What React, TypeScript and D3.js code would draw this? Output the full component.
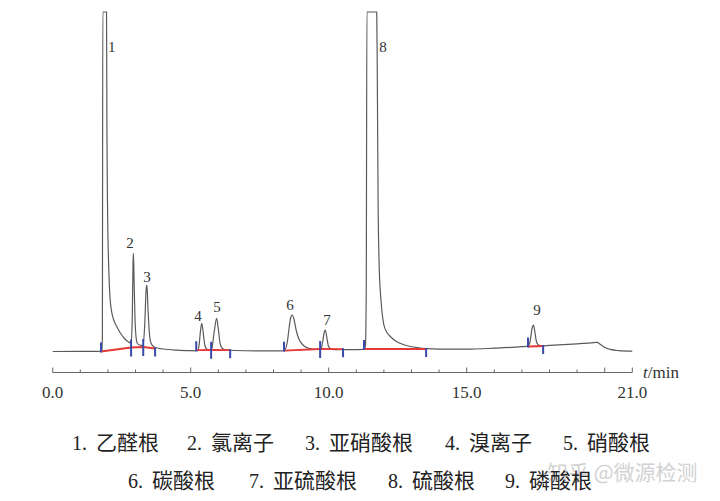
import React from "react";
import * as d3 from "d3";

// ---- data (t in min, signal in arbitrary units) ----
const traceTime = [
  0.0, 1.0, 1.6, 1.79, 1.8, 1.815, 1.95, 1.965, 1.985, 2.0, 2.03, 2.07, 2.12, 2.2, 2.33, 2.45, 2.6, 2.75,
  2.84, 2.88, 2.91, 2.925, 2.95, 2.98, 3.02, 3.07, 3.15, 3.27, 3.33, 3.39, 3.415, 3.45, 3.5, 3.56, 3.65, 3.8,
  4.0, 4.5, 5.0, 5.24, 5.3, 5.35, 5.4, 5.45, 5.51, 5.58, 5.68, 5.76, 5.85, 5.94, 6.0, 6.07, 6.15, 6.3, 6.6,
  7.5, 8.3, 8.42, 8.5, 8.57, 8.63, 8.68, 8.74, 8.82, 8.92, 9.05, 9.2, 9.4, 9.6, 9.72, 9.78, 9.84, 9.88, 9.93,
  9.99, 10.07, 10.2, 10.8, 11.28, 11.33, 11.36, 11.385, 11.74, 11.76, 11.79, 11.83, 11.9, 12.0, 12.1, 12.25,
  12.47, 12.7, 12.95, 13.25, 13.55, 14.0, 15.0, 16.0, 17.0, 17.22, 17.3, 17.37, 17.42, 17.47, 17.53, 17.6,
  17.7, 18.0, 18.5, 19.0, 19.5, 19.72, 19.85, 20.0, 20.2, 20.5, 21.0,
];
const traceSignal = [
  0.5, 0.6, 0.7, 0.8, 20, 340, 340, 220, 150, 118, 85, 57, 43, 33, 25, 19, 13.5, 10,
  9, 30, 88, 99, 70, 35, 15, 8.5, 7, 6.5, 25, 64, 67, 45, 20, 9, 5.5, 4,
  3, 1.8, 1.3, 1.2, 6, 20, 28.7, 20, 7, 3, 2, 3, 20, 33.7, 23, 8, 3.5, 2, 1.5,
  1.2, 1.2, 2.5, 10, 25, 35, 37, 33, 22, 13, 7.5, 4.5, 3, 2.6, 3, 10, 20, 22, 15,
  6, 3.2, 2.4, 2.4, 2.7, 6, 60, 340, 340, 280, 150, 85, 50, 27, 20, 15,
  10.3, 7.5, 5.5, 4.2, 3.4, 2.9, 2.8, 3.8, 5.3, 5.8, 11, 24, 27, 20, 10, 7,
  6.2, 6.6, 7.4, 8.2, 9.1, 9.6, 7.5, 4.8, 2.6, 1.4, 0.8,
];

// integration baselines (red) and their boundary markers (blue)
const baselineTimes = [
  [1.75, 2.84, 3.28, 3.71],
  [5.2, 5.74, 6.43],
  [8.38, 9.69, 10.52],
  [11.28, 13.53],
  [17.22, 17.77],
];
const baselineLevels = [
  [0.5, 4.5, 5, 3.5],
  [1.8, 2.2, 1.8],
  [1.3, 3, 2.8],
  [3, 3],
  [5.5, 6],
];

// peak number labels (anchor in data coordinates)
const peakNumbers = ["1", "2", "3", "4", "5", "6", "7", "8", "9"];
const peakLabelTime = [2.14, 2.8, 3.42, 5.26, 5.95, 8.6, 9.94, 11.97, 17.55];
const peakLabelSignal = [305, 109, 75, 36, 45, 47, 32, 305, 42];

// axis
const xTickValues = d3.range(0, 22, 1);
const xLabelValues = [0, 5, 10, 15, 21];
const xLabelTexts = ["0.0", "5.0", "10.0", "15.0", "21.0"];

// legend
const legendNumbers = ["1.", "2.", "3.", "4.", "5.", "6.", "7.", "8.", "9."];
const legendNames = ["乙醛根", "氯离子", "亚硝酸根", "溴离子", "硝酸根", "碳酸根", "亚硫酸根", "硫酸根", "磷酸根"];

// ---- layout ----
const W = 720;
const H = 501;
const legendX = [72, 187, 305, 445, 563, 128, 249, 388, 505];
const legendRowY = [449.5, 487.5];
const legendRowOf = [0, 0, 0, 0, 0, 1, 1, 1, 1];

const SERIF = "'Liberation Serif', 'Times New Roman', serif";
const CJK = "'Noto Sans CJK SC', sans-serif";

export default function App() {
  const x = d3.scaleLinear().domain([0, 21]).range([52.7, 632.3]);
  const y = d3.scaleLinear().domain([0, 340]).range([352, 12]);
  const axisY = 372.5;

  const pts = traceTime.map((t, i) => [t, traceSignal[i]] as [number, number]);
  const line = d3
    .line<[number, number]>()
    .x((d) => x(d[0]))
    .y((d) => y(d[1]))
    .curve(d3.curveMonotoneX);

  const redLine = d3
    .line<[number, number]>()
    .x((d) => x(d[0]))
    .y((d) => y(d[1]));

  return (
    <svg
      width={W}
      height={H}
      viewBox={`0 0 ${W} ${H}`}
      style={{ position: "absolute", left: 0, top: 0, background: "#fff" }}
    >
      <defs>
        <clipPath id="plotClip">
          <rect x={0} y={y(340) - 2} width={W} height={axisY - y(340) + 2} />
        </clipPath>
      </defs>

      {/* trace */}
      <g clipPath="url(#plotClip)">
        <path d={line(pts) || ""} fill="none" stroke="#5a5a5a" strokeWidth={1.2} strokeLinejoin="round" />
      </g>

      {/* integration baselines */}
      {baselineTimes.map((ts, gi) => (
        <path
          key={"r" + gi}
          d={redLine(ts.map((t, j) => [t, baselineLevels[gi][j]] as [number, number])) || ""}
          fill="none"
          stroke="#e53935"
          strokeWidth={1.8}
        />
      ))}

      {/* boundary markers */}
      {baselineTimes.map((ts, gi) =>
        ts.map((t, j) => {
          const y0 = y(baselineLevels[gi][j]);
          const first = j === 0;
          const last = j === ts.length - 1;
          const top = first ? y0 - 9 : last ? y0 - 1 : y0 - 8;
          const bot = first ? y0 + 1 : last ? y0 + 8 : y0 + 9;
          return (
            <line
              key={"b" + gi + "-" + j}
              x1={x(t)}
              x2={x(t)}
              y1={top}
              y2={bot}
              stroke="#3949ab"
              strokeWidth={2}
            />
          );
        })
      )}

      {/* peak labels */}
      {peakNumbers.map((p, i) => (
        <text
          key={"p" + i}
          x={x(peakLabelTime[i])}
          y={y(peakLabelSignal[i])}
          textAnchor="middle"
          dominantBaseline="central"
          fontFamily={SERIF}
          fontSize={15}
          fill="#333"
        >
          {p}
        </text>
      ))}

      {/* x axis */}
      <line x1={x(0)} x2={x(21)} y1={axisY} y2={axisY} stroke="#666" strokeWidth={1} />
      {xTickValues.map((v) => (
        <line
          key={"t" + v}
          x1={x(v)}
          x2={x(v)}
          y1={axisY}
          y2={axisY - (v % 5 === 0 || v === 21 ? 5 : 3)}
          stroke="#666"
          strokeWidth={1}
        />
      ))}
      {xLabelValues.map((v, i) => (
        <text
          key={"l" + v}
          x={x(v)}
          y={398}
          textAnchor="middle"
          fontFamily={SERIF}
          fontSize={17}
          fill="#333"
        >
          {xLabelTexts[i]}
        </text>
      ))}
      <text x={643} y={378} fontFamily={SERIF} fontSize={17} fill="#333">
        <tspan fontStyle="italic">t</tspan>
        <tspan>/min</tspan>
      </text>

      {/* watermark */}
      <text x={547} y={480} fontFamily={CJK} fontSize={21} fill="#c8c8c8" opacity={0.8}>
        知乎 @微源检测
      </text>

      {/* legend */}
      {legendNumbers.map((n, i) => (
        <text key={"g" + i} y={legendRowY[legendRowOf[i]]} fill="#222">
          <tspan x={legendX[i]} fontFamily={SERIF} fontSize={20}>
            {n}
          </tspan>
          <tspan x={legendX[i] + 24} fontFamily={CJK} fontSize={21}>
            {legendNames[i]}
          </tspan>
        </text>
      ))}
    </svg>
  );
}
